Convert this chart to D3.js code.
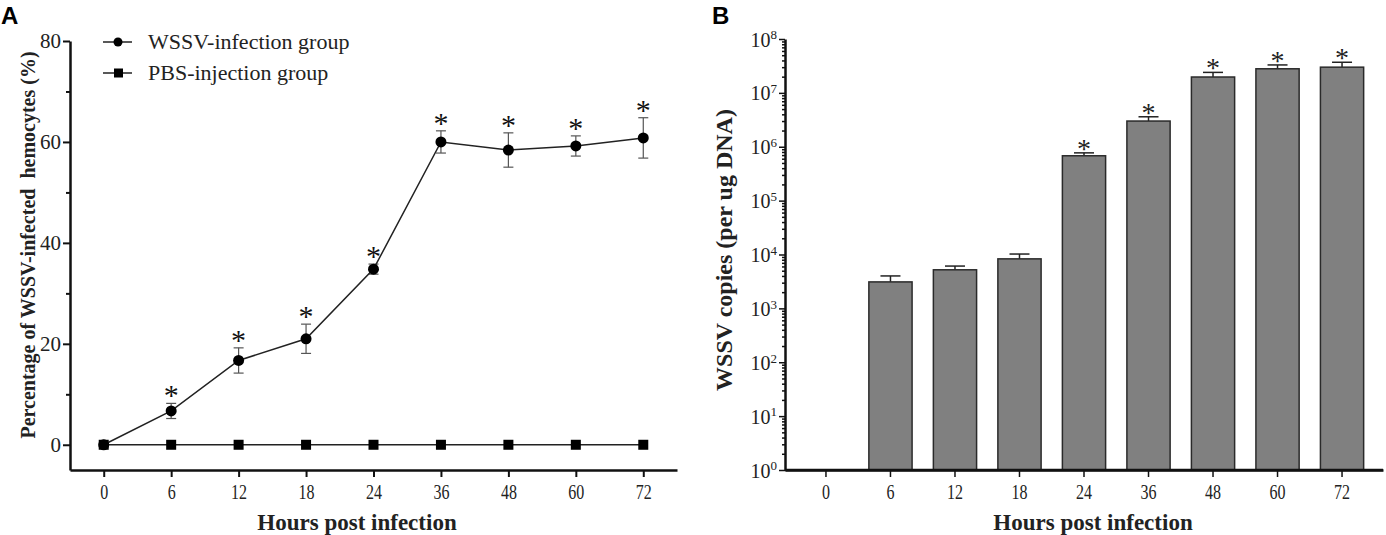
<!DOCTYPE html>
<html><head><meta charset="utf-8">
<script src="https://cdn.jsdelivr.net/npm/d3@7"></script>
<style>body{margin:0;background:#fff}svg{display:block}</style>
</head><body>
<svg id="c" width="1386" height="535"></svg>
<script>
// Panel A data
const hours = ["0","6","12","18","24","36","48","60","72"];
const wssvPct = [0, 6.7, 16.7, 21.0, 34.8, 60.0, 58.4, 59.2, 60.8];
const wssvErr = [0, 1.5, 2.5, 2.9, 1.0, 2.2, 3.4, 2.0, 4.0];
const wssvSig = [false, true, true, true, true, true, true, true, true];
const pbsPct = [0, 0, 0, 0, 0, 0, 0, 0, 0];
const yTicksA = [0, 20, 40, 60, 80];
// Panel B data
const copies = [null, 3.1e3, 5.2e3, 8.3e3, 6.8e5, 3.0e6, 1.97e7, 2.8e7, 3.0e7];
const copiesErrTop = [null, 4.0e3, 6.1e3, 1.02e4, 7.7e5, 3.6e6, 2.4e7, 3.3e7, 3.7e7];
const copiesSig = [false, false, false, false, true, true, true, true, true];
const yTicksB = [1, 10, 100, 1e3, 1e4, 1e5, 1e6, 1e7, 1e8];
const legendLabels = ["WSSV-infection group", "PBS-injection group"];

const svg = d3.select("#c");
const serif = "'Liberation Serif','Times New Roman',serif";

function styleXTicks(ax) {
  ax.selectAll("text").attr("font-family", serif).attr("font-size", 20).attr("fill", "#222")
    .attr("transform", "scale(0.8,1)");
}

// ---------- Panel A ----------
const xA = d3.scalePoint().domain(hours).range([70, 677]).padding(0.5);
const yA = d3.scaleLinear().domain([-5, 80]).range([470, 41]);
const gA = svg.append("g");

gA.append("text").attr("x", 1).attr("y", 24).text("A")
  .attr("font-family", "'Liberation Sans',Arial,sans-serif").attr("font-weight", "bold").attr("font-size", 24);

const yAxA = gA.append("g").attr("transform", "translate(70,0)")
  .call(d3.axisLeft(yA).tickValues(yTicksA).tickSize(7).tickPadding(2).tickSizeOuter(0));
yAxA.selectAll("text").attr("font-family", serif).attr("font-size", 21).attr("fill", "#222");
gA.append("g").attr("transform", "translate(70,0)")
  .call(d3.axisLeft(yA).tickValues([10, 30, 50, 70]).tickSize(4).tickFormat("").tickSizeOuter(0))
  .select(".domain").remove();
const xAxA = gA.append("g").attr("transform", "translate(0,470)")
  .call(d3.axisBottom(xA).tickSize(7).tickPadding(8).tickSizeOuter(0));
styleXTicks(xAxA);
gA.selectAll(".domain").attr("stroke", "#111").attr("stroke-width", 2.5);
gA.selectAll(".tick line").attr("stroke", "#111").attr("stroke-width", 2);

gA.append("text").attr("transform", "translate(35,245) rotate(-90)").attr("text-anchor", "middle")
  .attr("font-family", serif).attr("font-weight", "bold").attr("font-size", 20).attr("fill", "#222")
  .attr("xml:space", "preserve").text("Percentage of WSSV-infected  hemocytes (%)");
gA.append("text").attr("x", 357).attr("y", 530).attr("text-anchor", "middle")
  .attr("font-family", serif).attr("font-weight", "bold").attr("font-size", 23).attr("fill", "#222")
  .text("Hours post infection");

const lineA = d3.line().x((d, i) => xA(hours[i])).y(d => yA(d));
gA.append("path").datum(pbsPct).attr("d", lineA).attr("fill", "none").attr("stroke", "#222").attr("stroke-width", 1.5);
gA.selectAll(".sq").data(pbsPct).join("rect").attr("class", "sq")
  .attr("x", (d, i) => xA(hours[i]) - 5).attr("y", d => yA(d) - 5).attr("width", 10).attr("height", 10).attr("fill", "#000");

const ptsA = wssvPct.map((v, i) => ({v, e: wssvErr[i], h: hours[i], s: wssvSig[i]}));
const eb = gA.selectAll(".eb").data(ptsA.filter(d => d.e > 0))
  .join("g").attr("class", "eb").attr("stroke", "#555").attr("stroke-width", 1.2);
eb.append("line").attr("x1", d => xA(d.h)).attr("x2", d => xA(d.h)).attr("y1", d => yA(d.v - d.e)).attr("y2", d => yA(d.v + d.e));
eb.append("line").attr("x1", d => xA(d.h) - 5).attr("x2", d => xA(d.h) + 5).attr("y1", d => yA(d.v + d.e)).attr("y2", d => yA(d.v + d.e));
eb.append("line").attr("x1", d => xA(d.h) - 5).attr("x2", d => xA(d.h) + 5).attr("y1", d => yA(d.v - d.e)).attr("y2", d => yA(d.v - d.e));

gA.append("path").datum(wssvPct).attr("d", lineA).attr("fill", "none").attr("stroke", "#222").attr("stroke-width", 1.5);
gA.selectAll(".dot").data(wssvPct).join("circle").attr("class", "dot")
  .attr("cx", (d, i) => xA(hours[i])).attr("cy", d => yA(d)).attr("r", 5.5).attr("fill", "#000");
gA.selectAll(".starA").data(ptsA.filter(d => d.s))
  .join("text").attr("class", "starA").attr("x", d => xA(d.h)).attr("y", d => yA(d.v + d.e) + 2)
  .attr("text-anchor", "middle").attr("font-family", serif).attr("font-size", 30).attr("fill", "#111").text("*");

const leg = gA.append("g");
legendLabels.forEach((lab, i) => {
  const y = 42 + i * 31;
  leg.append("line").attr("x1", 103).attr("x2", 132).attr("y1", y).attr("y2", y).attr("stroke", "#222").attr("stroke-width", 1.5);
  if (i === 0) leg.append("circle").attr("cx", 118).attr("cy", y).attr("r", 4.5).attr("fill", "#000");
  else leg.append("rect").attr("x", 114).attr("y", y - 4.5).attr("width", 9).attr("height", 9).attr("fill", "#000");
  leg.append("text").attr("x", 148).attr("y", y + 7).attr("font-family", serif).attr("font-size", 22).attr("fill", "#222").text(lab);
});

// ---------- Panel B ----------
const xB = d3.scaleBand().domain(hours).range([785, 1383]).paddingInner(0.33).paddingOuter(0.3);
const yB = d3.scaleLog().domain([1, 1e8]).range([470, 39]);
const gB = svg.append("g");

gB.append("text").attr("x", 712).attr("y", 24).text("B")
  .attr("font-family", "'Liberation Sans',Arial,sans-serif").attr("font-weight", "bold").attr("font-size", 24);

const minor = [];
for (let d = 0; d < 8; d++) for (let m = 2; m <= 9; m++) minor.push(m * Math.pow(10, d));
gB.append("g").attr("transform", "translate(785,0)")
  .call(d3.axisLeft(yB).tickValues(minor).tickSize(3).tickFormat("").tickSizeOuter(0))
  .select(".domain").remove();
const yAxB = gB.append("g").attr("transform", "translate(785,0)")
  .call(d3.axisLeft(yB).tickValues(yTicksB).tickSize(6).tickSizeOuter(0).tickFormat(""));
yAxB.selectAll(".tick").append("text").attr("x", -8).attr("dy", "0.35em").attr("text-anchor", "end")
  .attr("font-family", serif).attr("font-size", 20).attr("fill", "#222")
  .each(function(d) {
    const t = d3.select(this);
    t.append("tspan").text("10");
    t.append("tspan").attr("dy", "-0.55em").attr("font-size", 13).text(Math.round(Math.log10(d)));
  });

const xAxB = gB.append("g").attr("transform", "translate(0,470)")
  .call(d3.axisBottom(xB).tickSize(7).tickPadding(8).tickSizeOuter(0));
styleXTicks(xAxB);
gB.selectAll(".domain").attr("stroke", "#111").attr("stroke-width", 2.5);
gB.selectAll(".tick line").attr("stroke", "#111").attr("stroke-width", 1.5);

gB.append("text").attr("transform", "translate(732,250) rotate(-90)").attr("text-anchor", "middle")
  .attr("font-family", serif).attr("font-weight", "bold").attr("font-size", 24).attr("fill", "#222")
  .text("WSSV copies (per ug DNA)");
gB.append("text").attr("x", 1093).attr("y", 530).attr("text-anchor", "middle")
  .attr("font-family", serif).attr("font-weight", "bold").attr("font-size", 23).attr("fill", "#222")
  .text("Hours post infection");

const barData = copies.map((v, i) => ({v, top: copiesErrTop[i], h: hours[i], s: copiesSig[i]})).filter(d => d.v);
gB.selectAll(".ebB").data(barData).join("g").attr("class", "ebB").attr("stroke", "#222").attr("stroke-width", 1.5)
  .each(function(d) {
    const g = d3.select(this), cx = xB(d.h) + xB.bandwidth() / 2;
    g.append("line").attr("x1", cx).attr("x2", cx).attr("y1", yB(d.v)).attr("y2", yB(d.top));
    g.append("line").attr("x1", cx - 10).attr("x2", cx + 10).attr("y1", yB(d.top)).attr("y2", yB(d.top));
  });
gB.selectAll(".bar").data(barData).join("rect").attr("class", "bar")
  .attr("x", d => xB(d.h)).attr("width", xB.bandwidth())
  .attr("y", d => yB(d.v)).attr("height", d => yB(1) - yB(d.v))
  .attr("fill", "#808080").attr("stroke", "#2a2a2a").attr("stroke-width", 1.5);
gB.selectAll(".starB").data(barData.filter(d => d.s)).join("text").attr("class", "starB")
  .attr("x", d => xB(d.h) + xB.bandwidth() / 2).attr("y", d => yB(d.top) + 5)
  .attr("text-anchor", "middle").attr("font-family", serif).attr("font-size", 28).attr("fill", "#222").text("*");
gB.append("line").attr("x1", 785).attr("x2", 1383).attr("y1", yB(1)).attr("y2", yB(1)).attr("stroke", "#111").attr("stroke-width", 2.5);
</script>
</body></html>
